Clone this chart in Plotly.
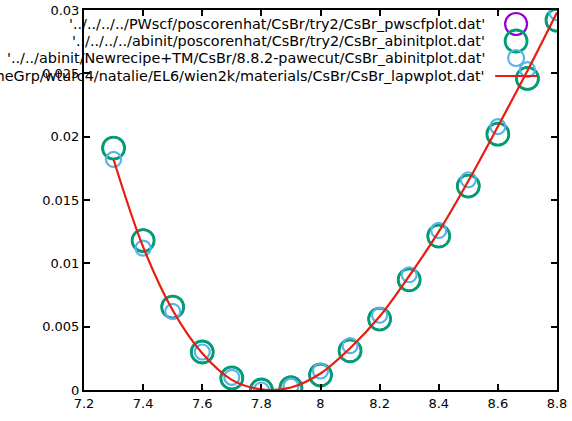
import plotly.graph_objects as go

x_vals = [7.3, 7.4, 7.5, 7.6, 7.7, 7.8, 7.9, 8.0, 8.1, 8.2, 8.3, 8.4, 8.5, 8.6, 8.7, 8.8]
pwscf_y = [0.0191, 0.0118, 0.00655, 0.0030, 0.00095, 0.0, 0.0002, 0.0012, 0.0031, 0.0056, 0.0087, 0.01215, 0.0161, 0.0202, 0.0246, 0.0292]
abinit_y = [0.0191, 0.0118, 0.00655, 0.0030, 0.00095, 0.0, 0.00016, 0.00118, 0.0031, 0.0056, 0.0087, 0.01215, 0.0161, 0.0202, 0.0246, 0.0292]
newrecipe_y = [0.0182, 0.0112, 0.0062, 0.0030, 0.0010, 0.0, 0.0003, 0.0015, 0.0035, 0.0059, 0.0091, 0.0126, 0.0166, 0.0208, 0.0253, 0.0298]
lapw_y = [0.0182, 0.0113, 0.0063, 0.0029, 0.0008, 0.00005, 0.0002, 0.0013, 0.0033, 0.0058, 0.0090, 0.0125, 0.0165, 0.0208, 0.0252, 0.0298]

labels = [
    "'../../../../PWscf/poscorenhat/CsBr/try2/CsBr_pwscfplot.dat'",
    "'../../../../abinit/poscorenhat/CsBr/try2/CsBr_abinitplot.dat'",
    "'../../abinit/Newrecipe+TM/CsBr/8.8.2-pawecut/CsBr_abinitplot.dat'",
    "'/homeGrp/wturc4/natalie/EL6/wien2k/materials/CsBr/CsBr_lapwplot.dat'",
]
colors = ["#9400d3", "#009e73", "#56b4e9", "#e51e10"]

fig = go.Figure()
fig.add_trace(go.Scatter(x=x_vals, y=pwscf_y, mode="markers",
                         marker=dict(symbol="circle-open", size=22, color=colors[0], line=dict(width=2))))
fig.add_trace(go.Scatter(x=x_vals, y=abinit_y, mode="markers",
                         marker=dict(symbol="circle-open", size=22, color=colors[1], line=dict(width=2.8))))
fig.add_trace(go.Scatter(x=x_vals, y=newrecipe_y, mode="markers",
                         marker=dict(symbol="circle-open", size=15, color=colors[2], line=dict(width=2.2))))
fig.add_trace(go.Scatter(x=x_vals, y=lapw_y, mode="lines", line=dict(color=colors[3], width=2.2, shape="spline")))

# legend (gnuplot style: text right-aligned, sample on right)
PW, PH = 474.0, 380.0
leg_y = [24, 41, 58, 76]
for i, (lab, c) in enumerate(zip(labels, colors)):
    yp = 1 - (leg_y[i] - 10) / PH
    fig.add_annotation(x=(488 - 84) / PW, y=yp, xref="paper", yref="paper",
                       text=lab, showarrow=False, xanchor="right", yanchor="middle",
                       font=dict(family="DejaVu Sans", size=14.4, color="black"))
    if i < 3:
        r = 11 if i < 2 else 8
        cx = (517 - 84) / PW
        fig.add_shape(type="circle", xref="paper", yref="paper",
                      x0=cx - r / PW, x1=cx + r / PW,
                      y0=yp - r / PH, y1=yp + r / PH,
                      line=dict(color=c, width=2.8 if i == 1 else 2.2))
    else:
        fig.add_shape(type="line", xref="paper", yref="paper",
                      x0=(496 - 84) / PW, x1=(539 - 84) / PW, y0=yp, y1=yp,
                      line=dict(color=c, width=2.2))

axis_common = dict(showline=True, linecolor="black", linewidth=2, mirror="ticks",
                   ticks="inside", ticklen=6, tickwidth=2, tickcolor="black",
                   showgrid=False, zeroline=False, automargin=False,
                   tickfont=dict(family="DejaVu Sans", size=13, color="black"))
fig.update_xaxes(range=[7.2, 8.8], tickvals=[7.2, 7.4, 7.6, 7.8, 8.0, 8.2, 8.4, 8.6, 8.8],
                 ticktext=["7.2", "7.4", "7.6", "7.8", "8", "8.2", "8.4", "8.6", "8.8"], **axis_common)
fig.update_yaxes(range=[0, 0.03], tickvals=[0, 0.005, 0.01, 0.015, 0.02, 0.025, 0.03],
                 ticktext=["0", "0.005", "0.01", "0.015", "0.02", "0.025", "0.03"], **axis_common)
fig.update_layout(width=572, height=421, showlegend=False,
                  margin=dict(l=84, r=15, t=10, b=31),
                  plot_bgcolor="white", paper_bgcolor="white")
fig.write_html("out.html")
